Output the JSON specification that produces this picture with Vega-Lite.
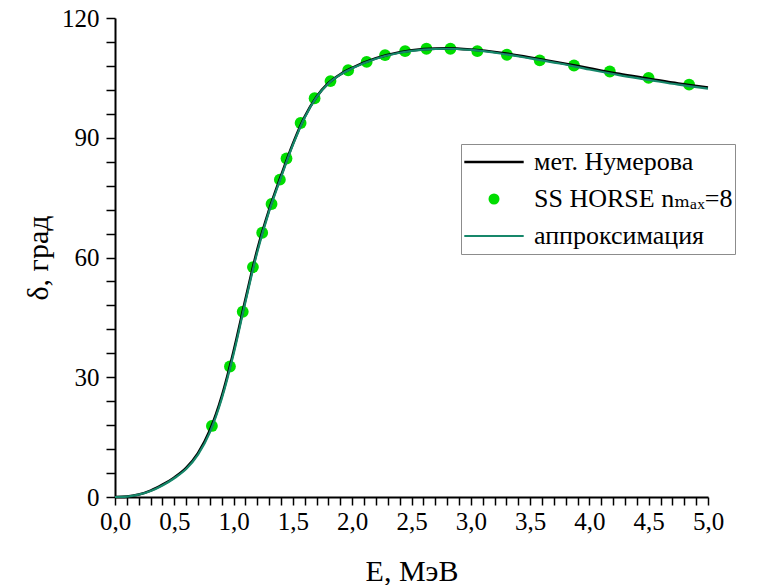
{
  "$schema": "https://vega.github.io/schema/vega-lite/v6.json",
  "width": 593,
  "height": 479,
  "autosize": {"type": "none"},
  "padding": {"left": 115, "top": 18, "right": 51, "bottom": 88},
  "background": "white",
  "config": {"view": {"stroke": null}, "font": "Liberation Serif, DejaVu Serif, serif"},
  "data": {
    "values": [
      {"series": "мет. Нумерова", "E": 0.0, "d": 0.0},
      {"series": "мет. Нумерова", "E": 0.1, "d": 0.1},
      {"series": "мет. Нумерова", "E": 0.2, "d": 0.6},
      {"series": "мет. Нумерова", "E": 0.3, "d": 1.6},
      {"series": "мет. Нумерова", "E": 0.4, "d": 3.1},
      {"series": "мет. Нумерова", "E": 0.5, "d": 4.9},
      {"series": "мет. Нумерова", "E": 0.6, "d": 7.3},
      {"series": "мет. Нумерова", "E": 0.7, "d": 11.0},
      {"series": "мет. Нумерова", "E": 0.8, "d": 16.7},
      {"series": "мет. Нумерова", "E": 0.9, "d": 25.2},
      {"series": "мет. Нумерова", "E": 1.0, "d": 36.5},
      {"series": "мет. Нумерова", "E": 1.1, "d": 49.5},
      {"series": "мет. Нумерова", "E": 1.2, "d": 62.0},
      {"series": "мет. Нумерова", "E": 1.3, "d": 72.0},
      {"series": "мет. Нумерова", "E": 1.4, "d": 80.5},
      {"series": "мет. Нумерова", "E": 1.5, "d": 88.5},
      {"series": "мет. Нумерова", "E": 1.6, "d": 95.3},
      {"series": "мет. Нумерова", "E": 1.7, "d": 100.3},
      {"series": "мет. Нумерова", "E": 1.8, "d": 103.7},
      {"series": "мет. Нумерова", "E": 1.9, "d": 105.9},
      {"series": "мет. Нумерова", "E": 2.0, "d": 107.5},
      {"series": "мет. Нумерова", "E": 2.2, "d": 109.9},
      {"series": "мет. Нумерова", "E": 2.4, "d": 111.4},
      {"series": "мет. Нумерова", "E": 2.6, "d": 112.2},
      {"series": "мет. Нумерова", "E": 2.8, "d": 112.4},
      {"series": "мет. Нумерова", "E": 3.0, "d": 112.1},
      {"series": "мет. Нумерова", "E": 3.25, "d": 111.3},
      {"series": "мет. Нумерова", "E": 3.5, "d": 110.1},
      {"series": "мет. Нумерова", "E": 3.75, "d": 108.8},
      {"series": "мет. Нумерова", "E": 4.0, "d": 107.4},
      {"series": "мет. Нумерова", "E": 4.25, "d": 106.0},
      {"series": "мет. Нумерова", "E": 4.5, "d": 104.8},
      {"series": "мет. Нумерова", "E": 4.75, "d": 103.6},
      {"series": "мет. Нумерова", "E": 5.0, "d": 102.6},
      {"series": "аппроксимация", "E": 0.0, "d": 0.0},
      {"series": "аппроксимация", "E": 0.1, "d": 0.1},
      {"series": "аппроксимация", "E": 0.2, "d": 0.6},
      {"series": "аппроксимация", "E": 0.3, "d": 1.5},
      {"series": "аппроксимация", "E": 0.4, "d": 2.9},
      {"series": "аппроксимация", "E": 0.5, "d": 4.7},
      {"series": "аппроксимация", "E": 0.6, "d": 7.0},
      {"series": "аппроксимация", "E": 0.7, "d": 10.6},
      {"series": "аппроксимация", "E": 0.8, "d": 16.2},
      {"series": "аппроксимация", "E": 0.9, "d": 24.6},
      {"series": "аппроксимация", "E": 1.0, "d": 35.8},
      {"series": "аппроксимация", "E": 1.1, "d": 48.9},
      {"series": "аппроксимация", "E": 1.2, "d": 61.4},
      {"series": "аппроксимация", "E": 1.3, "d": 71.6},
      {"series": "аппроксимация", "E": 1.4, "d": 80.1},
      {"series": "аппроксимация", "E": 1.5, "d": 88.2},
      {"series": "аппроксимация", "E": 1.6, "d": 95.1},
      {"series": "аппроксимация", "E": 1.7, "d": 100.2},
      {"series": "аппроксимация", "E": 1.8, "d": 103.6},
      {"series": "аппроксимация", "E": 1.9, "d": 105.8},
      {"series": "аппроксимация", "E": 2.0, "d": 107.4},
      {"series": "аппроксимация", "E": 2.2, "d": 109.8},
      {"series": "аппроксимация", "E": 2.4, "d": 111.3},
      {"series": "аппроксимация", "E": 2.6, "d": 112.1},
      {"series": "аппроксимация", "E": 2.8, "d": 112.3},
      {"series": "аппроксимация", "E": 3.0, "d": 112.0},
      {"series": "аппроксимация", "E": 3.25, "d": 111.1},
      {"series": "аппроксимация", "E": 3.5, "d": 109.9},
      {"series": "аппроксимация", "E": 3.75, "d": 108.6},
      {"series": "аппроксимация", "E": 4.0, "d": 107.1},
      {"series": "аппроксимация", "E": 4.25, "d": 105.7},
      {"series": "аппроксимация", "E": 4.5, "d": 104.5},
      {"series": "аппроксимация", "E": 4.75, "d": 103.3},
      {"series": "аппроксимация", "E": 5.0, "d": 102.3},
      {"series": "SS HORSE nₘₐₓ=8", "E": 0.817, "d": 17.8},
      {"series": "SS HORSE nₘₐₓ=8", "E": 0.969, "d": 32.7},
      {"series": "SS HORSE nₘₐₓ=8", "E": 1.077, "d": 46.4},
      {"series": "SS HORSE nₘₐₓ=8", "E": 1.163, "d": 57.6},
      {"series": "SS HORSE nₘₐₓ=8", "E": 1.241, "d": 66.2},
      {"series": "SS HORSE nₘₐₓ=8", "E": 1.32, "d": 73.4},
      {"series": "SS HORSE nₘₐₓ=8", "E": 1.39, "d": 79.5},
      {"series": "SS HORSE nₘₐₓ=8", "E": 1.446, "d": 84.8},
      {"series": "SS HORSE nₘₐₓ=8", "E": 1.565, "d": 93.7},
      {"series": "SS HORSE nₘₐₓ=8", "E": 1.683, "d": 99.9},
      {"series": "SS HORSE nₘₐₓ=8", "E": 1.817, "d": 104.2},
      {"series": "SS HORSE nₘₐₓ=8", "E": 1.966, "d": 106.9},
      {"series": "SS HORSE nₘₐₓ=8", "E": 2.122, "d": 109.0},
      {"series": "SS HORSE nₘₐₓ=8", "E": 2.277, "d": 110.7},
      {"series": "SS HORSE nₘₐₓ=8", "E": 2.446, "d": 111.7},
      {"series": "SS HORSE nₘₐₓ=8", "E": 2.626, "d": 112.3},
      {"series": "SS HORSE nₘₐₓ=8", "E": 2.828, "d": 112.3},
      {"series": "SS HORSE nₘₐₓ=8", "E": 3.055, "d": 111.7},
      {"series": "SS HORSE nₘₐₓ=8", "E": 3.304, "d": 110.8},
      {"series": "SS HORSE nₘₐₓ=8", "E": 3.581, "d": 109.4},
      {"series": "SS HORSE nₘₐₓ=8", "E": 3.87, "d": 108.1},
      {"series": "SS HORSE nₘₐₓ=8", "E": 4.172, "d": 106.6},
      {"series": "SS HORSE nₘₐₓ=8", "E": 4.499, "d": 105.0},
      {"series": "SS HORSE nₘₐₓ=8", "E": 4.841, "d": 103.3}
    ]
  },
  "encoding": {
    "x": {
      "field": "E",
      "type": "quantitative",
      "scale": {"domain": [0, 5], "nice": false, "zero": false},
      "axis": {
        "values": [0, 0.1, 0.2, 0.3, 0.4, 0.5, 0.6, 0.7, 0.8, 0.9, 1, 1.1, 1.2, 1.3, 1.4, 1.5, 1.6, 1.7, 1.8, 1.9, 2, 2.1, 2.2, 2.3, 2.4, 2.5, 2.6, 2.7, 2.8, 2.9, 3, 3.1, 3.2, 3.3, 3.4, 3.5, 3.6, 3.7, 3.8, 3.9, 4, 4.1, 4.2, 4.3, 4.4, 4.5, 4.6, 4.7, 4.8, 4.9, 5],
        "labelExpr": "abs(datum.value * 2 - round(datum.value * 2)) < 0.001 ? replace(format(datum.value, '.1f'), '.', ',') : ''",
        "tickSize": 8,
        "encode": {
          "ticks": {
            "update": {
              "y2": {"signal": "abs(datum.value * 2 - round(datum.value * 2)) < 0.001 ? 8 : 5"}
            }
          }
        },
        "grid": false,
        "labelOverlap": false,
        "labelFlush": false,
        "labelFont": "Liberation Serif",
        "labelFontSize": 25,
        "labelColor": "black",
        "labelPadding": 4,
        "domainColor": "black",
        "domainWidth": 2,
        "tickColor": "black",
        "tickWidth": 1.5,
        "title": "E, МэВ",
        "titleFont": "Liberation Serif, DejaVu Serif, serif",
        "titleFontSize": 30,
        "titleFontWeight": "normal",
        "titleColor": "black",
        "titlePadding": 22
      }
    },
    "y": {
      "field": "d",
      "type": "quantitative",
      "scale": {"domain": [0, 120], "nice": false},
      "axis": {
        "values": [0, 6, 12, 18, 24, 30, 36, 42, 48, 54, 60, 66, 72, 78, 84, 90, 96, 102, 108, 114, 120],
        "labelExpr": "datum.value % 30 === 0 ? '' + datum.value : ''",
        "tickSize": 9,
        "encode": {
          "ticks": {
            "update": {
              "x2": {"signal": "datum.value % 30 === 0 ? -9 : -5"}
            }
          }
        },
        "grid": false,
        "labelOverlap": false,
        "labelFlush": false,
        "labelFont": "Liberation Serif",
        "labelFontSize": 25,
        "labelColor": "black",
        "labelPadding": 7,
        "domainColor": "black",
        "domainWidth": 2,
        "tickColor": "black",
        "tickWidth": 1.5,
        "title": "δ, град",
        "titleFont": "Liberation Serif, DejaVu Serif, serif",
        "titleFontSize": 30,
        "titleFontWeight": "normal",
        "titleColor": "black",
        "titlePadding": 8
      }
    },
    "color": {
      "field": "series",
      "type": "nominal",
      "scale": {
        "domain": ["мет. Нумерова", "SS HORSE nₘₐₓ=8", "аппроксимация"],
        "range": ["#000000", "#00dd00", "#16876a"]
      },
      "legend": {
        "title": null,
        "orient": "none",
        "legendX": 346,
        "legendY": 126,
        "padding": 2,
        "strokeColor": "#8c8c8c",
        "fillColor": "white",
        "symbolSize": 121,
        "symbolOffset": 18,
        "symbolStrokeWidth": 0,
        "clipHeight": 32,
        "rowPadding": 5,
        "labelOffset": 27,
        "labelFont": "Liberation Serif, DejaVu Serif, serif",
        "labelFontSize": 26,
        "labelColor": "black",
        "labelLimit": 0
      }
    }
  },
  "layer": [
    {
      "transform": [{"filter": "indexof(datum.series, 'SS') === 0"}],
      "mark": {"type": "point", "filled": true, "opacity": 1, "size": 140},
      "encoding": {
        "shape": {
          "field": "series",
          "type": "nominal",
          "scale": {
            "domain": ["мет. Нумерова", "SS HORSE nₘₐₓ=8", "аппроксимация"],
            "range": ["M-5.4,-0.23H5.4V0.23H-5.4Z", "circle", "M-5.4,-0.2H5.4V0.2H-5.4Z"]
          },
          "legend": {
            "title": null,
            "orient": "none",
            "legendX": 346,
            "legendY": 126,
            "padding": 2,
            "strokeColor": "#8c8c8c",
            "fillColor": "white",
            "symbolSize": 121,
            "symbolOffset": 18,
            "symbolStrokeWidth": 0,
            "clipHeight": 32,
            "rowPadding": 5,
            "labelOffset": 27,
            "labelFont": "Liberation Serif, DejaVu Serif, serif",
            "labelFontSize": 26,
            "labelColor": "black",
            "labelLimit": 0
          }
        }
      }
    },
    {
      "transform": [{"filter": "datum.series === 'мет. Нумерова'"}],
      "mark": {"type": "line", "strokeWidth": 2.6, "interpolate": "monotone"}
    },
    {
      "transform": [{"filter": "datum.series === 'аппроксимация'"}],
      "mark": {"type": "line", "strokeWidth": 2.2, "interpolate": "monotone"}
    }
  ]
}
